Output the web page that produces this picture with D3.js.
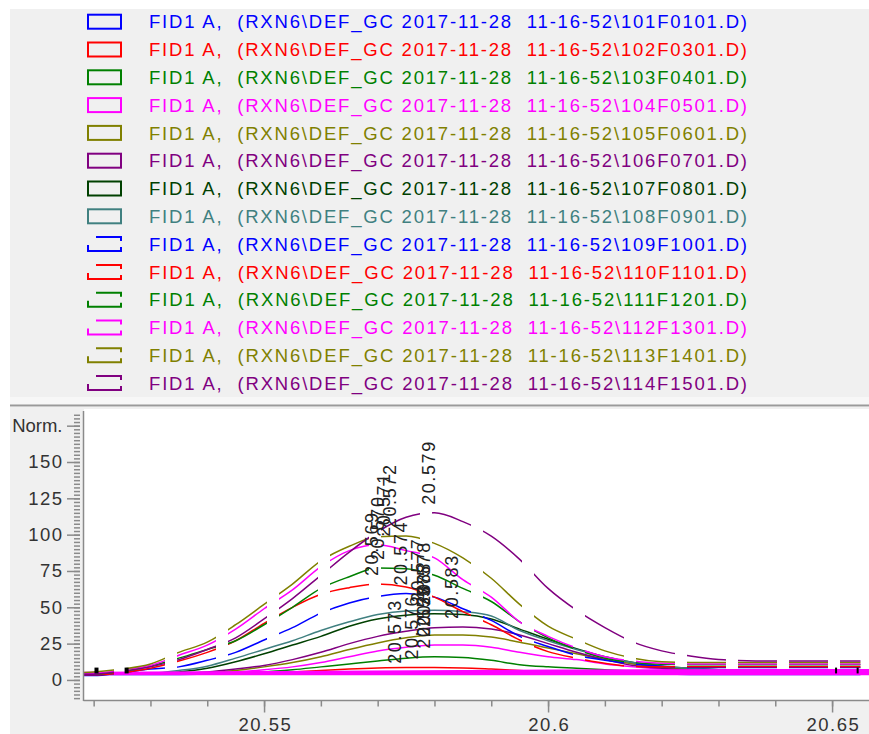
<!DOCTYPE html>
<meta charset="utf-8">
<style>

body { margin: 0; background: #fff; }

svg {
  display: block;
  font-family: Arial, "Liberation Sans", sans-serif;
}

.axis text {
  font-size: 18.5px;
  fill: #333;
  letter-spacing: 1.5px;
}

.axis line, .axis-line {
  stroke: #8a8a8a;
  stroke-width: 1.5;
}

.legend text {
  font-size: 18.5px;
  white-space: pre;
}

.peak {
  font-size: 18px;
  fill: #222;
  letter-spacing: 1.6px;
}

.trace {
  fill: none;
  stroke-width: 1.5;
}

</style>
<svg width="869" height="734"></svg>
<script src="https://cdn.jsdelivr.net/npm/d3@7"></script>
<script>

// retention time grid (min), one value per sample below
var rtGrid = [20.518, 20.52, 20.525, 20.53, 20.535, 20.54, 20.545, 20.55, 20.555, 20.56,
              20.565, 20.57, 20.575, 20.58, 20.585, 20.59, 20.595, 20.6, 20.605, 20.61,
              20.615, 20.62, 20.625, 20.63, 20.635, 20.64, 20.645, 20.65, 20.655];

// solid traces
var s101 = [3.8,3.8,3.8,3.8,3.8,3.9,4,4.2,4.5,4.8,5.1,5.4,5.6,5.6,5.4,5.1,4.8,4.5,4.2,4,3.9,3.9,3.8,3.8,3.8,3.8,3.8,3.8,3.8];
var s102 = [4,4,4,4,4,4,4.2,4.8,5.5,6.5,7.5,8.2,8.5,8.5,8.3,7.5,6.5,5.5,5,4.5,4.2,4,4,4,4,4,4,4,4];
var s103 = [4,4,4,4,4,4.2,4.8,5.5,7,9,11,13,15,16,15.5,13.5,10.5,9,8,7,6,5.5,5,4.7,4.5,4.4,4.3,4.3,4.3];
var s104 = [4,4,4,4,4,4.5,5.5,7,9,12,16,20,22.5,24,24,22.5,19,16,14,11,9,7.5,6.5,6,5.5,5.2,5,5,5];
var s105 = [4,4,4,4,4.2,5,6.5,9,12,16,21,25.5,29,31,31,29.5,26,22,18,14,11,8.5,7,6,5.5,5.2,5,5,5];
var s106 = [4,4,4,4,4.5,5.5,7.5,10,14,19,25,30,33.5,36,36.5,35,31,25,19,14,10,8,6.5,5.8,5.3,5,5,5,5];
var s107 = [4,4,4,4.3,5.5,8,12.5,18,24,30,37,42,44.5,45.5,45,42,35,28,21.5,16,12,9.5,8,7,6.5,6,5.8,5.6,5.5];
var s108 = [4,4,4,4.5,6.5,9.5,15,21,27,34,40,45,47.5,48,47,44,34,27,21,16,12,9.5,8,7,6.5,6,5.8,5.6,5.5];
// dashed traces
var s109 = [3,3,5,7.5,9,13.5,19,27.5,36,46,53,57.5,59.5,57,49,41,30,23,17,13.5,11,9.5,8.5,8.5,8.5,8.5,8.5,8.5,8.5];
var s110 = [3.5,3.5,5,8,13,19,27,39,50,59,63.5,66,64,57,47,38,27.5,19.5,15,11.5,9.3,9,9,9,9,9,9,9,9];
var s111 = [4,4,6,9.5,15,21,27,38,50,63,71,77,76.5,72,63,54,40,29,21,15,12,10.8,10.5,10.5,10.5,10.5,10.5,10.5,10.5];
var s112 = [4.5,4.5,7,10,17,24,35,49,62,78,89,93,89,84,69,57,40,30,22,16,13,11.5,11,11,11,11,11,11,11];
var s113 = [5,5.5,7.5,11,19,26,38,52,66,82,92,98.5,99,94,84,70,52,37,28,20,15,12.5,12,12,12,12,12,12,12];
var s114 = [4,4,6,9,14,21,29,42,56,72,88,102,112,115,109,99,83,63,48,36,26,20,16.5,14,13.2,13,13,13,13];

var files = ["101F0101", "102F0301", "103F0401", "104F0501", "105F0601", "106F0701", "107F0801",
             "108F0901", "109F1001", "110F1101", "111F1201", "112F1301", "113F1401", "114F1501"];
var peakRt = [20.573, 20.576, 20.578, 20.578, 20.578, 20.583, 20.578,
              20.577, 20.574, 20.569, 20.570, 20.571, 20.572, 20.579];

// thick baseline band where the traces pile up
var bandRt = [20.518, 20.56, 20.6, 20.657];
var bandLow = [3.3, 3.3, 3.3, 3.3];
var bandHigh = [5.6, 6.4, 7.2, 7.6];

// integration event marks
var markerRt = [20.5205, 20.5258, 20.6507, 20.6545];

var yMajor = [0, 25, 50, 75, 100, 125, 150, 175];
var xMajor = [20.55, 20.6, 20.65];

var series = [s101, s102, s103, s104, s105, s106, s107, s108, s109, s110, s111, s112, s113, s114];
var colors = ["#0000ff", "#ff0000", "#008000", "#ff00ff", "#808000", "#800080", "#004000", "#408080",
              "#0000ff", "#ff0000", "#008000", "#ff00ff", "#808000", "#800080"];
var dashed = series.map(function(d, i) { return i >= 8; });

var svg = d3.select("svg");

var x = d3.scaleLinear().domain([20.5183, 20.6565]).range([84, 869]);
var y = d3.scaleLinear().domain([-13.8, 185.1]).range([700, 411]);

// panels
svg.append("rect").attr("x", 10).attr("y", 9).attr("width", 859).attr("height", 388).attr("fill", "#f0f0f0");
svg.append("rect").attr("x", 10).attr("y", 397).attr("width", 859).attr("height", 8).attr("fill", "#f7f7f7");
svg.append("rect").attr("x", 10).attr("y", 407).attr("width", 859).attr("height", 327).attr("fill", "#f0f0f0");
svg.append("line").attr("x1", 10).attr("x2", 869).attr("y1", 405.5).attr("y2", 405.5)
    .attr("stroke", "#9a9a9a").attr("stroke-width", 2);
svg.append("rect").attr("x", 84).attr("y", 409).attr("width", 785).attr("height", 291).attr("fill", "#fff");

// legend
var legend = svg.append("g").attr("class", "legend");
files.forEach(function(f, i) {
  var cy = 21.7 + i * 27.8;
  legend.append("rect")
      .attr("x", 88).attr("y", cy - 7)
      .attr("width", 33).attr("height", 14)
      .attr("fill", "none")
      .attr("stroke", colors[i])
      .attr("stroke-width", 2)
      .attr("stroke-dasharray", dashed[i] ? "0 8 29 6 43 8" : null);
  legend.append("text")
      .attr("x", 149).attr("y", cy + 6.6)
      .attr("fill", colors[i])
      .attr("textLength", 598)
      .attr("lengthAdjust", "spacing")
      .text("FID1 A,  (RXN6\\DEF_GC 2017-11-28  11-16-52\\" + f + ".D)");
});

var defs = svg.append("defs");
defs.append("clipPath").attr("id", "plot")
  .append("rect").attr("x", 84).attr("y", 409).attr("width", 785).attr("height", 291);

// dashes are laid out along the time axis, as the instrument software does
var dashClip = defs.append("clipPath").attr("id", "dash");
d3.range(0, 17).forEach(function(k) {
  dashClip.append("rect").attr("x", 75 + 51 * k).attr("y", 409).attr("width", 39).attr("height", 291);
});

var line = d3.line()
    .x(function(d, i) { return x(rtGrid[i]); })
    .y(function(d) { return y(d); })
    .curve(d3.curveMonotoneX);

var plot = svg.append("g").attr("clip-path", "url(#plot)");

var solid = plot.append("g");
var dash = plot.append("g").attr("clip-path", "url(#dash)");

series.forEach(function(s, i) {
  if (dashed[i]) return;
  solid.append("path").attr("class", "trace").attr("stroke", colors[i]).attr("d", line(s));
});

var band = d3.area()
    .x(function(d, i) { return x(bandRt[i]); })
    .y0(function(d, i) { return y(bandLow[i]); })
    .y1(function(d) { return y(d); });
solid.append("path").attr("fill", "#ff00ff").attr("d", band(bandHigh));

series.forEach(function(s, i) {
  if (!dashed[i]) return;
  dash.append("path").attr("class", "trace").attr("stroke", colors[i]).attr("d", line(s));
});

plot.selectAll(".marker")
  .data(markerRt)
  .enter().append("rect")
    .attr("class", "marker")
    .attr("x", function(d, i) { return x(d) - (i < 2 ? 2 : 1); })
    .attr("width", function(d, i) { return i < 2 ? 4 : 2; })
    .attr("y", y(8.5))
    .attr("height", y(4.5) - y(8.5))
    .attr("fill", "#000");

// peak retention time labels
var fmt = d3.format(".3f");
series.forEach(function(s, i) {
  svg.append("text")
      .attr("class", "peak")
      .attr("transform", "translate(" + x(peakRt[i]) + "," + (y(d3.max(s)) - 8) + ") rotate(-90)")
      .attr("dy", "0.36em")
      .text(fmt(peakRt[i]));
});

// y axis
var yMinor = d3.range(-5, 74).map(function(k) { return k * 2.5; });
svg.append("g")
    .attr("class", "axis")
    .attr("transform", "translate(80,0)")
    .call(d3.axisLeft(y).tickValues(yMinor).tickSize(6).tickFormat(""))
    .call(function(g) { g.select(".domain").remove(); });

var yAxis = svg.append("g")
    .attr("class", "axis")
    .attr("transform", "translate(80,0)")
    .call(d3.axisLeft(y).tickValues(yMajor).tickSize(13).tickPadding(3.5)
      .tickFormat(function(d) { return d === 175 ? "Norm." : d; }))
    .call(function(g) { g.select(".domain").remove(); });
yAxis.selectAll("text").attr("font-family", null);
yAxis.selectAll("text").filter(function(d) { return d === 175; })
    .style("letter-spacing", "0px").attr("dx", "-1");

svg.append("line").attr("class", "axis-line")
    .attr("x1", 83.5).attr("x2", 83.5).attr("y1", 411).attr("y2", 701);

// x axis
var xMinor = d3.range(0, 14).map(function(k) { return 20.52 + k * 0.01; });
svg.append("g")
    .attr("class", "axis")
    .attr("transform", "translate(0,700.5)")
    .call(d3.axisBottom(x).tickValues(xMinor).tickSize(6).tickFormat(""))
    .call(function(g) { g.select(".domain").remove(); });

svg.append("g")
    .attr("class", "axis")
    .attr("transform", "translate(0,700.5)")
    .call(d3.axisBottom(x).tickValues(xMajor).tickSize(12).tickPadding(5)
      .tickFormat(function(d) { return d3.format("")(+d.toFixed(2)); }))
    .call(function(g) { g.select(".domain").remove(); })
    .selectAll("text").attr("dx", "0.75px");

svg.append("line").attr("class", "axis-line")
    .attr("x1", 83.5).attr("x2", 869).attr("y1", 700.5).attr("y2", 700.5);

</script>
